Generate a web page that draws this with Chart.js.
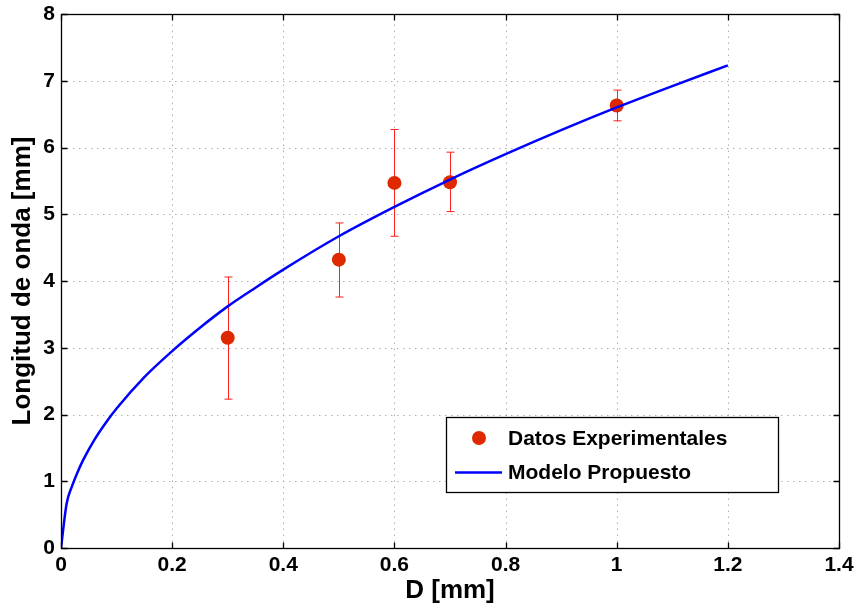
<!DOCTYPE html>
<html lang="es">
<head>
<meta charset="UTF-8">
<title>Longitud de onda vs D</title>
<script src="https://cdn.jsdelivr.net/npm/chart.js@4.4.1/dist/chart.umd.min.js"></script>
<style>
body{ margin:0; background:#fff; }
</style>
</head>
<body>
<canvas id="chart" width="859" height="611"></canvas>
<script>
// datos experimentales
const expD = [0.3, 0.5, 0.6, 0.7, 1.0]
const expL = [3.15, 4.32, 5.47, 5.48, 6.63]
const expLow = [2.23, 3.76, 4.67, 5.04, 6.40]
const expHigh = [4.06, 4.87, 6.27, 5.93, 6.86]

// modelo propuesto
const modelD = [0, 0.01, 0.02, 0.03, 0.04, 0.06, 0.08, 0.1, 0.15, 0.2, 0.25, 0.3, 0.35, 0.4, 0.5, 0.6, 0.7, 0.8, 0.9, 1.0, 1.1, 1.2]
const modelL = [0, 0.66, 0.93, 1.14, 1.32, 1.62, 1.87, 2.09, 2.56, 2.95, 3.30, 3.62, 3.90, 4.17, 4.67, 5.11, 5.52, 5.90, 6.26, 6.60, 6.92, 7.23]

const xTicks = [0, 0.2, 0.4, 0.6, 0.8, 1, 1.2, 1.4]
const yTicks = [0, 1, 2, 3, 4, 5, 6, 7, 8]

const FONT = '"Liberation Sans", Arial, Helvetica, sans-serif'
const DOT = '#de2800'
const BLUE = '#0000ff'

// cuadro, rejilla punteada y marcas interiores
const framePlugin = {
  id: 'frame',
  beforeDatasetsDraw(chart) {
    const {ctx, chartArea: a, scales: {x, y}} = chart
    ctx.save()
    ctx.lineWidth = 1
    ctx.strokeStyle = '#b0b0b0'
    ctx.setLineDash([1.5, 4.5])
    for (const v of xTicks) {
      const px = Math.round(x.getPixelForValue(v)) + 0.5
      ctx.beginPath(); ctx.moveTo(px, a.bottom); ctx.lineTo(px, a.top); ctx.stroke()
    }
    for (const v of yTicks) {
      const py = Math.round(y.getPixelForValue(v)) + 0.5
      ctx.beginPath(); ctx.moveTo(a.left, py); ctx.lineTo(a.right, py); ctx.stroke()
    }
    ctx.setLineDash([])

    // barras de error
    ctx.strokeStyle = '#ff2020'
    for (let i = 0; i < expD.length; i++) {
      const px = Math.round(x.getPixelForValue(expD[i])) + 0.5
      const y1 = y.getPixelForValue(expLow[i])
      const y2 = y.getPixelForValue(expHigh[i])
      ctx.beginPath()
      ctx.moveTo(px, y1); ctx.lineTo(px, y2)
      ctx.moveTo(px - 4, y1); ctx.lineTo(px + 4, y1)
      ctx.moveTo(px - 4, y2); ctx.lineTo(px + 4, y2)
      ctx.stroke()
    }
    ctx.restore()
  },
  afterDatasetsDraw(chart) {
    const {ctx, chartArea: a, scales: {x, y}} = chart
    ctx.save()
    ctx.strokeStyle = '#000'
    ctx.lineWidth = 1.3
    const L = Math.round(a.left) + 0.5, R = Math.round(a.right) + 0.5
    const T = Math.round(a.top) + 0.5, B = Math.round(a.bottom) + 0.5
    ctx.strokeRect(L, T, R - L, B - T)
    ctx.beginPath()
    for (const v of xTicks) {
      const px = Math.round(x.getPixelForValue(v)) + 0.5
      ctx.moveTo(px, B); ctx.lineTo(px, B - 6)
      ctx.moveTo(px, T); ctx.lineTo(px, T + 6)
    }
    for (const v of yTicks) {
      const py = Math.round(y.getPixelForValue(v)) + 0.5
      ctx.moveTo(L, py); ctx.lineTo(L + 6, py)
      ctx.moveTo(R, py); ctx.lineTo(R - 6, py)
    }
    ctx.stroke()

    // leyenda
    const bx = 446.5, by = 417.5, bw = 332, bh = 75
    ctx.fillStyle = '#fff'
    ctx.fillRect(bx, by, bw, bh)
    ctx.strokeRect(bx, by, bw, bh)
    ctx.fillStyle = DOT
    ctx.beginPath(); ctx.arc(479, 438, 7, 0, Math.PI * 2); ctx.fill()
    ctx.strokeStyle = BLUE
    ctx.lineWidth = 2.5
    ctx.beginPath(); ctx.moveTo(455, 472.5); ctx.lineTo(502, 472.5); ctx.stroke()
    ctx.fillStyle = '#000'
    ctx.font = 'bold 21px ' + FONT
    ctx.textBaseline = 'middle'
    ctx.fillText(chart.data.datasets[1].label, 508, 439)
    ctx.fillText(chart.data.datasets[0].label, 508, 473)
    ctx.restore()
  }
}

new Chart(document.getElementById('chart'), {
  type: 'scatter',
  data: {
    datasets: [
      {
        label: 'Modelo Propuesto',
        data: modelD.map((d, i) => ({x: d, y: modelL[i]})),
        showLine: true,
        borderColor: BLUE,
        borderWidth: 2.5,
        pointRadius: 0,
        cubicInterpolationMode: 'monotone',
        order: 0
      },
      {
        label: 'Datos Experimentales',
        data: expD.map((d, i) => ({x: d, y: expL[i]})),
        backgroundColor: DOT,
        borderColor: DOT,
        pointRadius: 7,
        pointBorderWidth: 0,
        order: 1
      }
    ]
  },
  options: {
    responsive: false,
    animation: false,
    devicePixelRatio: 1,
    layout: { padding: { left: 0, right: 20, top: 14, bottom: 0 } },
    plugins: { legend: { display: false }, tooltip: { enabled: false } },
    scales: {
      x: {
        type: 'linear',
        min: 0, max: 1.4,
        afterBuildTicks: s => { s.ticks = xTicks.map(v => ({value: v})) },
        afterFit: s => { s.height = 63 },
        grid: { display: false, drawTicks: false },
        border: { display: false },
        ticks: { color: '#000', padding: 5, maxRotation: 0, font: { family: FONT, size: 21, weight: 'bold' }, callback: v => String(v) },
        title: { display: true, text: 'D [mm]', color: '#000', padding: { top: 0, bottom: 5 }, font: { family: FONT, size: 26, weight: 'bold' } }
      },
      y: {
        type: 'linear',
        min: 0, max: 8,
        afterBuildTicks: s => { s.ticks = yTicks.map(v => ({value: v})) },
        afterFit: s => { s.width = 61; s.paddingTop = 0; s.paddingBottom = 0 },
        grid: { display: false, drawTicks: false },
        border: { display: false },
        ticks: { color: '#000', padding: 6, font: { family: FONT, size: 21, weight: 'bold', lineHeight: 1 }, callback: v => String(v) },
        title: { display: true, text: 'Longitud de onda [mm]', color: '#000', padding: { top: 7, bottom: 0 }, font: { family: FONT, size: 26, weight: 'bold' } }
      }
    }
  },
  plugins: [framePlugin]
})
</script>
</body>
</html>
